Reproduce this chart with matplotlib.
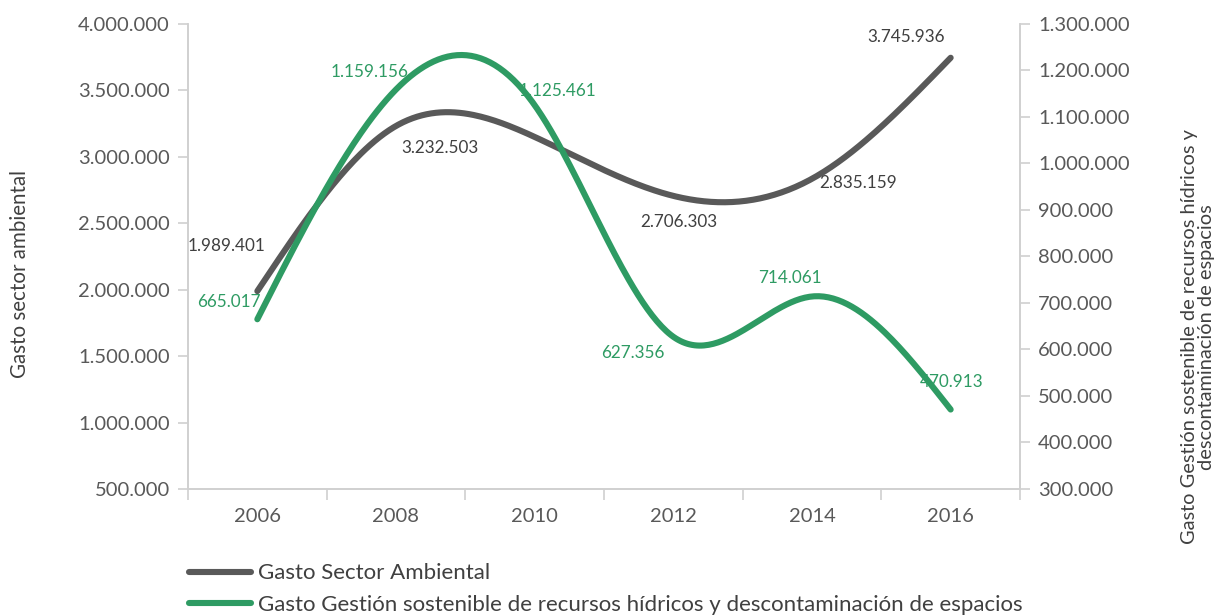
import numpy as np
import matplotlib
matplotlib.use("Agg")
import matplotlib.pyplot as plt
from matplotlib.lines import Line2D
from matplotlib.ticker import FuncFormatter, FixedLocator

plt.rcParams['font.family'] = ['Lato', 'DejaVu Sans']

years = ['2006', '2008', '2010', '2012', '2014', '2016']
ambiental = [1989401, 3232503, 3150000, 2706303, 2835159, 3745936]
hidricos = [665017, 1159156, 1125461, 627356, 714061, 470913]
# which points carry a data label (2010 of the grey series has none in the source)
amb_labeled = [True, True, False, True, True, True]

name_amb = 'Gasto Sector Ambiental'
name_hid = 'Gasto Gestión sostenible de recursos hídricos y descontaminación de espacios'

grey = '#595959'
green = '#2e9b63'
axis_col = '#d0d0d0'
tick_col = '#595959'

# label offsets in pixels (dx, dy), y up
amb_off = [(-31, 45), (44, -22), (0, 0), (5, -26), (46, -4), (-45, 21)]
hid_off = [(-28, 17), (-26, 17), (23, 14), (-41, -16), (-22, 18), (1, 28)]


def smooth(vals, n=60):
    # natural cubic spline through the points (uniform spacing)
    y = np.asarray(vals, float)
    m = len(y)
    A = np.zeros((m, m))
    r = np.zeros(m)
    A[0, 0] = A[-1, -1] = 1
    for i in range(1, m - 1):
        A[i, i - 1], A[i, i], A[i, i + 1] = 1, 4, 1
        r[i] = 6 * (y[i + 1] - 2 * y[i] + y[i - 1])
    M = np.linalg.solve(A, r)
    xs, ys = [], []
    for i in range(m - 1):
        t = np.linspace(0, 1, n)
        seg = ((1 - t) * y[i] + t * y[i + 1]
               + ((1 - t) ** 3 - (1 - t)) * M[i] / 6 + (t ** 3 - t) * M[i + 1] / 6)
        xs.extend(i + t)
        ys.extend(seg)
    return np.array(xs), np.array(ys)


def miles(v, pos=None):
    return f'{int(round(v)):,}'.replace(',', '.')


fig = plt.figure(figsize=(12.19, 6.16), dpi=100)
ax = fig.add_axes([188 / 1219, 1 - 489 / 616, (1020 - 188) / 1219, (489 - 24) / 616])
ax2 = ax.twinx()

x = np.arange(len(years))
sx, sy = smooth(ambiental)
ax.plot(sx, sy, color=grey, lw=4.4, solid_capstyle='round', zorder=3)
hx, hy = smooth(hidricos)
ax2.plot(hx, hy, color=green, lw=4.4, solid_capstyle='round', zorder=3)

ax.set_xlim(-0.5, len(years) - 0.5)
ax.set_ylim(500000, 4000000)
ax2.set_ylim(300000, 1300000)
ax.set_yticks(np.arange(500000, 4000001, 500000))
ax2.set_yticks(np.arange(300000, 1300001, 100000))
ax.yaxis.set_major_formatter(FuncFormatter(miles))
ax2.yaxis.set_major_formatter(FuncFormatter(miles))

ax.set_xticks(x)
ax.set_xticklabels(years)
ax.xaxis.set_minor_locator(FixedLocator(np.arange(-0.5, len(years), 1.0)))
ax.tick_params(axis='x', which='major', length=0, pad=14, labelsize=14.5, labelcolor=tick_col)
ax.tick_params(axis='x', which='minor', length=8, width=1.2, color=axis_col, direction='out')
ax.tick_params(axis='y', length=7, width=1.2, color=axis_col, pad=6, labelsize=14.5, labelcolor=tick_col)
ax2.tick_params(axis='y', length=7, width=1.2, color=axis_col, pad=6, labelsize=14.5, labelcolor=tick_col)

for a in (ax, ax2):
    a.spines['top'].set_visible(False)
    for s in ('left', 'right', 'bottom'):
        a.spines[s].set_color(axis_col)
        a.spines[s].set_linewidth(1.2)

for i, v in enumerate(ambiental):
    if amb_labeled[i]:
        dx, dy = amb_off[i]
        ax.annotate(miles(v), (x[i], v), xytext=(dx * 0.72, dy * 0.72), textcoords='offset points',
                    ha='center', va='center', fontsize=12.3, color='#404040', zorder=4)
for i, v in enumerate(hidricos):
    dx, dy = hid_off[i]
    ax2.annotate(miles(v), (x[i], v), xytext=(dx * 0.72, dy * 0.72), textcoords='offset points',
                 ha='center', va='center', fontsize=12.3, color=green, zorder=4)

fig.text(20 / 1219, 1 - 274 / 616, 'Gasto sector ambiental', rotation=90, ha='center', va='center',
         fontsize=14.8, color='#404040')
fig.text(1198 / 1219, 1 - 337 / 616,
         'Gasto Gestión sostenible de recursos hídricos y\ndescontaminación de espacios',
         rotation=90, ha='center', va='center', fontsize=14.4, color='#404040', linespacing=0.95)

handles = [Line2D([], [], color=grey, lw=4.4, solid_capstyle='round'),
           Line2D([], [], color=green, lw=4.4, solid_capstyle='round')]
fig.legend(handles, [name_amb, name_hid], loc='center left', bbox_to_anchor=(189 / 1219, 1 - 589 / 616),
           frameon=False, fontsize=16, handlelength=2.8, handletextpad=0.3, labelspacing=0.5,
           borderpad=0, borderaxespad=0, labelcolor='#404040')

fig.savefig('out.png', dpi=100)
